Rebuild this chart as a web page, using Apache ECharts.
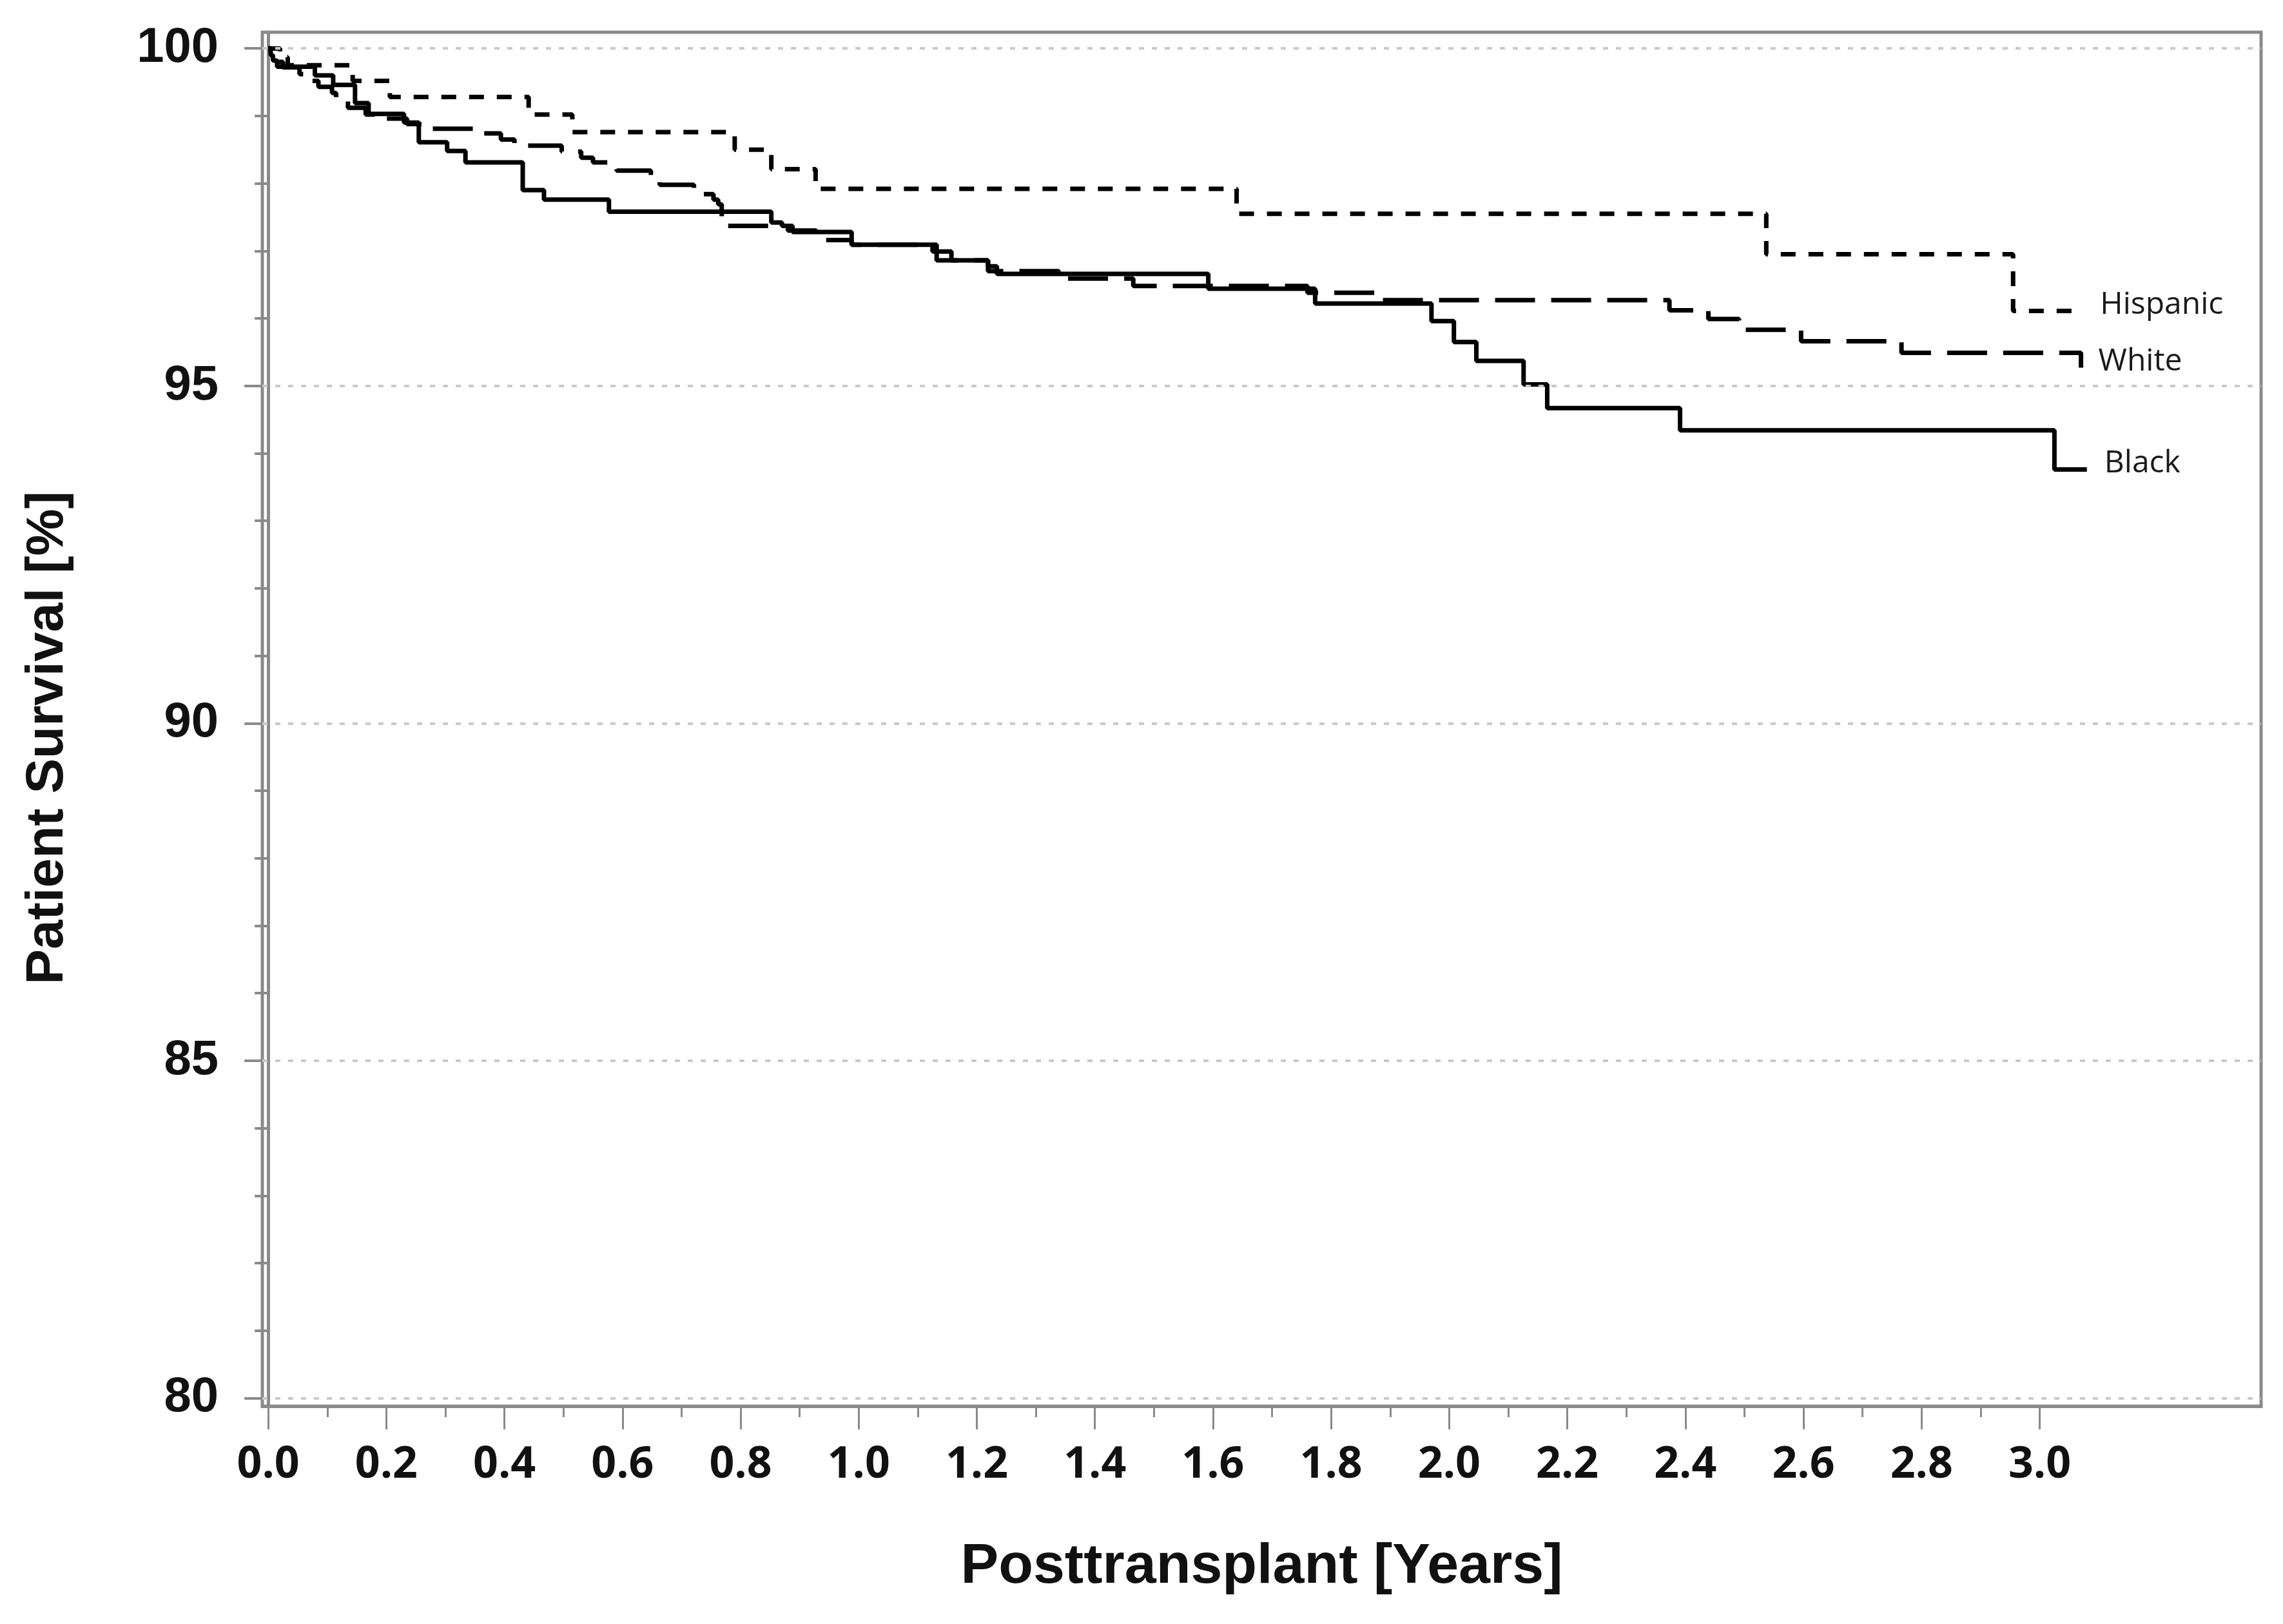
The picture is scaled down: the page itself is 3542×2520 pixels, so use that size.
<!DOCTYPE html>
<html>
<head>
<meta charset="utf-8">
<script src="https://cdn.jsdelivr.net/npm/echarts@6/dist/echarts.min.js"></script>
<style>
html,body{margin:0;padding:0;background:#ffffff;}
#chart{width:3542px;height:2520px;}
</style>
</head>
<body>
<div id="chart"></div>
<script>
// ---- tick values ----
const xMajorTicks = [0.0,0.2,0.4,0.6,0.8,1.0,1.2,1.4,1.6,1.8,2.0,2.2,2.4,2.6,2.8,3.0];
const xMinorTicks = [0.1,0.3,0.5,0.7,0.9,1.1,1.3,1.5,1.7,1.9,2.1,2.3,2.5,2.7,2.9];
const yMajorTicks = [80,85,90,95,100];
const yMinorTicks = [81,82,83,84,86,87,88,89,91,92,93,94,96,97,98,99];

// ---- series (Kaplan-Meier steps: time in years, survival %) ----
const hispanicTime = [0,0.020,0.033,0.143,0.206,0.441,0.515,0.790,0.852,0.927,1.640,2.537,2.955,3.073];
const hispanicSurv = [100,99.87,99.75,99.52,99.28,99.02,98.76,98.50,98.21,97.92,97.55,96.95,96.11,96.11];

const whiteTime = [0,0.006,0.012,0.025,0.053,0.070,0.085,0.108,0.115,0.135,0.165,0.200,0.235,0.265,0.361,0.394,0.417,0.497,0.530,0.550,0.578,0.590,0.648,0.663,0.721,0.754,0.762,0.768,0.880,0.928,0.988,1.125,1.157,1.219,1.339,1.465,1.760,1.876,2.373,2.439,2.491,2.596,2.766,3.070];
const whiteSurv = [100,99.90,99.80,99.72,99.62,99.52,99.43,99.34,99.24,99.12,99.02,98.96,98.88,98.81,98.74,98.65,98.56,98.47,98.38,98.31,98.25,98.19,98.06,97.98,97.84,97.76,97.69,97.37,97.30,97.16,97.09,96.99,96.86,96.70,96.59,96.48,96.38,96.27,96.12,95.99,95.83,95.66,95.49,95.27];

const blackTime = [0,0.004,0.008,0.015,0.079,0.110,0.147,0.170,0.230,0.255,0.303,0.334,0.431,0.467,0.577,0.852,0.870,0.888,0.988,1.132,1.219,1.234,1.592,1.773,1.970,2.008,2.046,2.126,2.166,2.391,3.025,3.080];
const blackSurv = [100,99.90,99.82,99.73,99.60,99.46,99.19,99.03,98.90,98.61,98.48,98.31,97.90,97.76,97.58,97.42,97.37,97.28,97.09,96.86,96.77,96.66,96.44,96.22,95.96,95.65,95.37,95.02,94.67,94.34,93.76,93.76];

const seriesNames = ['Hispanic','White','Black'];

function pairs(t, s){ return t.map((v,i)=>[v, s[i]]); }

const X_MIN = -0.01, X_MAX = 3.375;
const Y_MIN = 79.88, Y_MAX = 100.24;
const axisGrey = '#8a8a8a';

const chart = echarts.init(document.getElementById('chart'), null, {renderer:'canvas'});

const endLabel = {
  show: true,
  formatter: '{a}',
  fontFamily: 'Open Sans',
  fontSize: 48,
  color: '#1a1a1a',
  distance: 27,
  offset: [0, -9]
};

chart.setOption({
  animation: false,
  backgroundColor: '#ffffff',
  grid: {
    left: 407, top: 50, width: 3101, height: 2132,
    show: true, borderColor: axisGrey, borderWidth: 5, backgroundColor: 'transparent'
  },
  xAxis: [
    {
      type: 'value', min: X_MIN, max: X_MAX, position: 'bottom',
      axisLine: {show: true, lineStyle: {color: axisGrey, width: 5}},
      axisTick: {show: true, customValues: xMajorTicks, length: 36, lineStyle: {color: axisGrey, width: 3}},
      axisLabel: {
        show: true, customValues: xMajorTicks, margin: 58,
        formatter: v => Number(v).toFixed(1),
        fontFamily: 'Open Sans', fontWeight: 'bold', fontSize: 68, color: '#111111'
      },
      splitLine: {show: false},
      name: 'Posttransplant [Years]', nameLocation: 'middle', nameGap: 206,
      nameTextStyle: {fontFamily: 'Liberation Sans', fontWeight: 'bold', fontSize: 88, color: '#111111'}
    },
    {
      type: 'value', min: X_MIN, max: X_MAX, position: 'bottom',
      axisLine: {show: false},
      axisTick: {show: true, customValues: xMinorTicks, length: 17, lineStyle: {color: axisGrey, width: 3}},
      axisLabel: {show: false},
      splitLine: {show: false}
    }
  ],
  yAxis: [
    {
      type: 'value', min: Y_MIN, max: Y_MAX, position: 'left',
      axisLine: {show: true, lineStyle: {color: axisGrey, width: 5}},
      axisTick: {show: true, customValues: yMajorTicks, length: 37, lineStyle: {color: axisGrey, width: 4}},
      axisLabel: {
        show: true, customValues: yMajorTicks, margin: 68,
        formatter: v => String(Math.round(v)),
        fontFamily: 'Liberation Sans', fontWeight: 'bold', fontSize: 76, color: '#111111'
      },
      splitLine: {show: false},
      name: 'Patient Survival [%]', nameLocation: 'middle', nameGap: 292, nameRotate: 90,
      nameTextStyle: {fontFamily: 'Liberation Sans', fontWeight: 'bold', fontSize: 82, color: '#111111', padding: [0, 58, 0, 0]}
    },
    {
      type: 'value', min: Y_MIN, max: Y_MAX, position: 'left',
      axisLine: {show: false},
      axisTick: {show: true, customValues: yMinorTicks, length: 21, lineStyle: {color: axisGrey, width: 4}},
      axisLabel: {show: false},
      splitLine: {show: false}
    }
  ],
  series: [
    {
      name: 'gridlines', type: 'line', data: [], z: 1, silent: true,
      markLine: {
        silent: true, symbol: ['none','none'], label: {show: false},
        lineStyle: {color: '#c9c9c9', width: 4, type: [8, 12]},
        data: yMajorTicks.map(v => ({yAxis: v}))
      }
    },
    {
      name: seriesNames[0], type: 'line', step: 'end', showSymbol: false, symbol: 'none', z: 3,
      data: pairs(hispanicTime, hispanicSurv),
      lineStyle: {color: '#000000', width: 7, type: [23, 20]},
      endLabel: endLabel
    },
    {
      name: seriesNames[1], type: 'line', step: 'end', showSymbol: false, symbol: 'none', z: 3,
      data: pairs(whiteTime, whiteSurv),
      lineStyle: {color: '#000000', width: 7, type: [62, 25], dashOffset: 55},
      endLabel: endLabel
    },
    {
      name: seriesNames[2], type: 'line', step: 'end', showSymbol: false, symbol: 'none', z: 3,
      data: pairs(blackTime, blackSurv),
      lineStyle: {color: '#000000', width: 7, type: 'solid'},
      endLabel: endLabel
    }
  ]
});
</script>
</body>
</html>
